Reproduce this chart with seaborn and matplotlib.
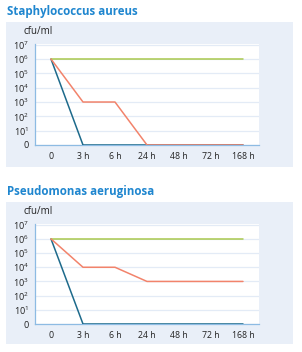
import matplotlib
matplotlib.use("Agg")
import matplotlib.pyplot as plt
import seaborn as sns
import pandas as pd
from matplotlib.patches import Rectangle

# ---- data ----
time_labels = ["0", "3 h", "6 h", "24 h", "48 h", "72 h", "168 h"]
y_labels = ["0", "$10^1$", "$10^2$", "$10^3$", "$10^4$", "$10^5$", "$10^6$", "$10^7$"]

staph_green = [6, 6, 6, 6, 6, 6, 6]
staph_blue = [6, 0, 0, 0, 0, 0, 0]
staph_orange = [6, 3, 3, 0, 0, 0, 0]

pseudo_green = [6, 6, 6, 6, 6, 6, 6]
pseudo_blue = [6, 0, 0, 0, 0, 0, 0]
pseudo_orange = [6, 4, 4, 3, 3, 3, 3]

titles = ["Staphylococcus aureus", "Pseudomonas aeruginosa"]

GREEN = "#a9c94e"
BLUE = "#1d6a8b"
ORANGE = "#f2836b"
BG = "#e9eff8"
AXC = "#8dbbe3"
GRID = "#e3ebf6"
TITLE_C = "#1f86cf"

sns.set_theme(style="white")
plt.rcParams["font.family"] = ["Open Sans", "DejaVu Sans"]
plt.rcParams["mathtext.fontset"] = "custom"
plt.rcParams["mathtext.rm"] = "Open Sans"

W, H = 302, 352
fig = plt.figure(figsize=(W / 100, H / 100), dpi=100)

def fx(px):
    return px / W

def fy(py):
    return 1 - py / H

panels = [
    dict(title=titles[0], title_y=12, bg=(6, 22, 293, 167), plot=(35, 44, 259, 145),
         series=[("blue", staph_blue, BLUE), ("green", staph_green, GREEN), ("orange", staph_orange, ORANGE)]),
    dict(title=titles[1], title_y=191, bg=(6, 202, 293, 344), plot=(35, 224, 259, 324),
         series=[("blue", pseudo_blue, BLUE), ("green", pseudo_green, GREEN), ("orange", pseudo_orange, ORANGE)]),
]

for p in panels:
    x0, y0, x1, y1 = p["bg"]
    fig.patches.append(Rectangle((fx(x0), fy(y1)), fx(x1 - x0), (y1 - y0) / H,
                                 transform=fig.transFigure, facecolor=BG, edgecolor="none", zorder=-5))
    fig.text(fx(7), fy(p["title_y"]), p["title"], color=TITLE_C, fontsize=8.3,
             fontweight="bold", va="center", ha="left")
    px0, py0, px1, py1 = p["plot"]
    ax = fig.add_axes([fx(px0), fy(py1), fx(px1 - px0), (py1 - py0) / H])
    ax.set_zorder(2)
    ax.set_facecolor("white")
    for name, vals, col in p["series"]:
        df = pd.DataFrame({"t": list(range(len(time_labels))), "v": vals})
        sns.lineplot(data=df, x="t", y="v", color=col, linewidth=1.1, ax=ax, zorder=3)
    ax.set_xlim(-0.5, 6.5)
    ax.set_ylim(0, 7.05)
    ax.set_yticks(range(8))
    ax.set_yticklabels(y_labels, fontsize=6.6, color="#222222")
    ax.set_xticks(range(7))
    ax.set_xticklabels(time_labels, fontsize=6.3, color="#222222")
    ax.set_xticks([i + 0.5 for i in range(6)], minor=True)
    ax.tick_params(axis="x", which="major", length=0, pad=5)
    ax.tick_params(axis="x", which="minor", direction="in", length=2.5, width=0.8, color=AXC)
    ax.tick_params(axis="y", which="major", direction="out", length=2.5, width=0.8, color=AXC, pad=2)
    ax.grid(axis="y", color=GRID, linewidth=0.9)
    ax.set_axisbelow(True)
    for s in ["top", "right"]:
        ax.spines[s].set_visible(False)
    for s in ["left", "bottom"]:
        ax.spines[s].set_color(AXC)
        ax.spines[s].set_linewidth(0.9)
    ax.set_xlabel("")
    ax.set_ylabel("")
    fig.text(fx(23), fy(py0 - 13), "cfu/ml", fontsize=7, color="#222222", va="center", ha="left")

fig.savefig("out.png", dpi=100)
